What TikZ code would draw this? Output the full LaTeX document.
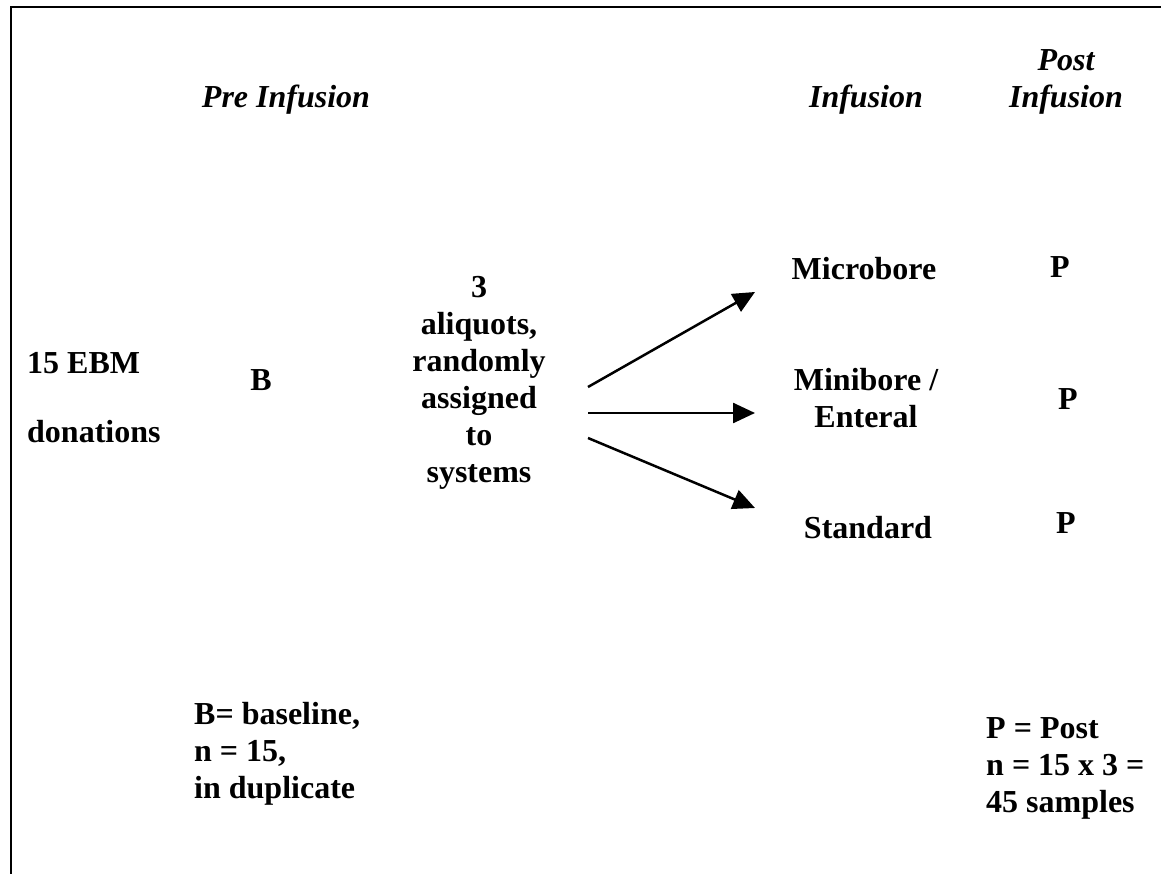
\documentclass[tikz,border=0pt]{standalone}
\usepackage{fontspec}
\setmainfont{Liberation Serif}
\usetikzlibrary{arrows.meta}
\begin{document}
\begin{tikzpicture}[x=1pt,y=-1pt,
  lbl/.style={font=\fontsize{32}{37}\selectfont\bfseries, inner sep=0pt, anchor=base, align=center},
  hdr/.style={lbl, font=\fontsize{32}{37}\selectfont\bfseries\itshape},
  lft/.style={lbl, anchor=base west, align=left},
  arr/.style={line width=2.5pt, -{Triangle[length=22pt,width=20pt]}},
  frame/.style={line width=1.6pt}]
\useasboundingbox (0,0) rectangle (1161,874);
\draw[frame] (11,874) -- (11,7) -- (1161,7);

\node[hdr] (pre) at (286,108) {Pre Infusion};
\node[hdr] (inf) at (866,108) {Infusion};
\node[hdr] (post) at (1066,108) {Post\\Infusion};

\node[lft] (ebm) at (27,373) {15 EBM};
\node[lft] (don) at (27,442) {donations};
\node[lbl] (b) at (261,390) {B};

\node[lbl] (aliq) at (479,482) {3\\aliquots,\\randomly\\assigned\\to\\systems};

\node[lbl] (micro) at (864,280) {Microbore};
\node[lbl] (mini) at (866,427) {Minibore /\\Enteral};
\node[lbl] (std) at (868,538) {Standard};

\node[lbl] (p1) at (1060,278) {P};
\node[lbl] (p2) at (1068,409) {P};
\node[lbl] (p3) at (1066,533) {P};

\node[lft] (base) at (194,798) {B= baseline,\\n = 15,\\in duplicate};
\node[lft] (postn) at (986,812) {P = Post\\n = 15 x 3 =\\45 samples};

\coordinate (s1) at (588,387);
\coordinate (e1) at (755,292);
\coordinate (s2) at (588,413);
\coordinate (e2) at (755,413);
\coordinate (s3) at (588,438);
\coordinate (e3) at (755,508);
\draw[arr] (s1) -- (e1);
\draw[arr] (s2) -- (e2);
\draw[arr] (s3) -- (e3);
\end{tikzpicture}
\end{document}
